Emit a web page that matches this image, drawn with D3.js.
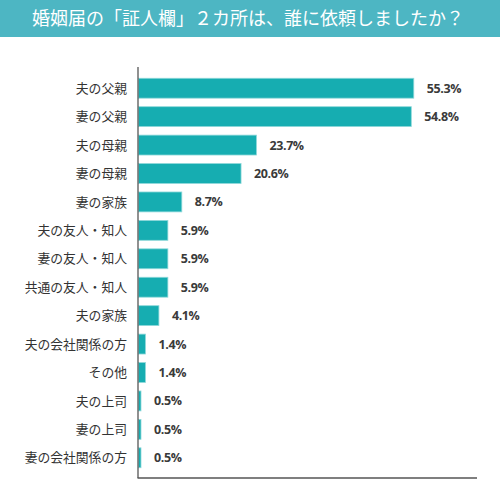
<!DOCTYPE html>
<html>
<head>
<meta charset="utf-8">
<script src="https://cdn.jsdelivr.net/npm/d3@7"></script>
<style>
  html, body { margin: 0; padding: 0; background: #fff; }
</style>
</head>
<body>
<script>
// data
const title = "婚姻届の「証人欄」２カ所は、誰に依頼しましたか？";
const categories = ["夫の父親", "妻の父親", "夫の母親", "妻の母親", "妻の家族",
  "夫の友人・知人", "妻の友人・知人", "共通の友人・知人", "夫の家族",
  "夫の会社関係の方", "その他", "夫の上司", "妻の上司", "妻の会社関係の方"];
const values = [55.3, 54.8, 23.7, 20.6, 8.7, 5.9, 5.9, 5.9, 4.1, 1.4, 1.4, 0.5, 0.5, 0.5];

const W = 500, H = 500;
const axLeft = 138.5, axRight = 477, axTop = 67, axBottom = 478;

const svg = d3.select("body").append("svg")
  .attr("width", W).attr("height", H);

// header band
svg.append("rect").attr("x", 0).attr("y", 0).attr("width", W).attr("height", 37)
  .attr("fill", "#4db6c3");
svg.append("text")
  .attr("x", 248).attr("y", 25)
  .attr("text-anchor", "middle")
  .attr("fill", "#fff")
  .attr("font-family", "'Noto Sans CJK JP', sans-serif")
  .attr("font-size", "18px")
  .text(title);

const x = d3.scaleLinear().domain([0, 68]).range([axLeft, axRight]);
const y = d3.scaleBand().domain(categories).range([74, 472])
  .paddingInner(0.3).paddingOuter(0.15);

const rows = d3.zip(categories, values);

svg.append("g").selectAll("rect").data(rows).join("rect")
  .attr("x", x(0))
  .attr("y", d => y(d[0]))
  .attr("width", d => x(d[1]) - x(0))
  .attr("height", y.bandwidth())
  .attr("fill", "#16adb1")
  .attr("stroke", "#8fd8da")
  .attr("stroke-width", 0.8);

// category labels
svg.append("g").selectAll("text").data(rows).join("text")
  .attr("x", 127)
  .attr("y", d => y(d[0]) + y.bandwidth() / 2)
  .attr("dy", "0.36em")
  .attr("text-anchor", "end")
  .attr("fill", "#333")
  .attr("font-family", "'Noto Sans CJK JP', sans-serif")
  .attr("font-size", "12.8px")
  .text(d => d[0]);

// value labels
svg.append("g").selectAll("text").data(rows).join("text")
  .attr("x", d => x(d[1]) + 13)
  .attr("y", d => y(d[0]) + y.bandwidth() / 2)
  .attr("dy", "0.36em")
  .attr("fill", "#3a3a3a")
  .attr("font-family", "'Open Sans', sans-serif")
  .attr("font-weight", "bold")
  .attr("font-size", "12.5px")
  .attr("letter-spacing", "-0.4px")
  .text(d => d[1].toFixed(1) + "%");

// axis lines
svg.append("line").attr("x1", axLeft - 0.5).attr("x2", axLeft - 0.5)
  .attr("y1", axTop).attr("y2", axBottom)
  .attr("stroke", "#555").attr("stroke-width", 1.3);
svg.append("line").attr("x1", axLeft - 1).attr("x2", axRight)
  .attr("y1", axBottom).attr("y2", axBottom)
  .attr("stroke", "#555").attr("stroke-width", 1.3);
</script>
</body>
</html>
